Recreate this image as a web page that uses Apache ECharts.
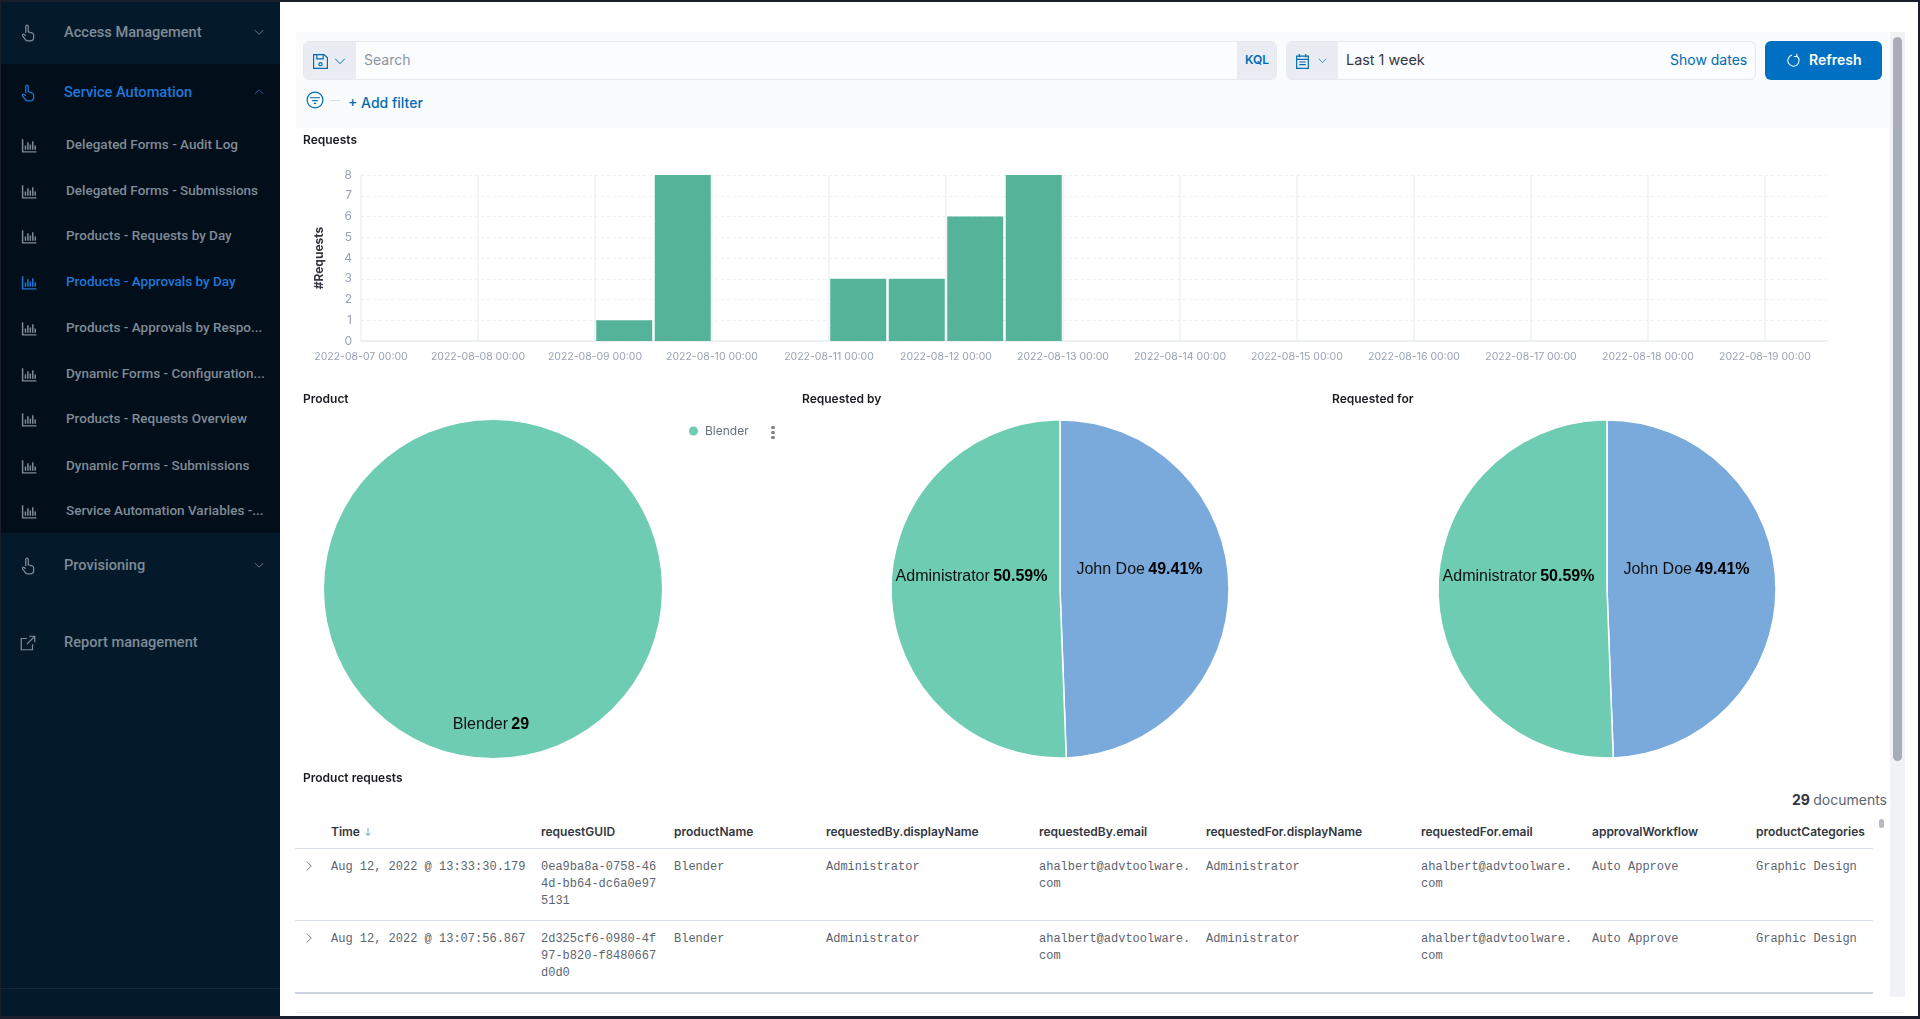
<!DOCTYPE html>
<html>
<head>
<meta charset="utf-8">
<title>Products - Approvals by Day</title>
<script src="https://cdn.jsdelivr.net/npm/echarts@6/dist/echarts.min.js"></script>
<style>
  html, body { margin: 0; padding: 0; background: #fff; overflow: hidden; }
  #page { position: relative; width: 1920px; height: 1019px; overflow: hidden; font-family: Roboto, sans-serif; }
  #chart { position: absolute; left: 0; top: 0; width: 1920px; height: 1019px; z-index: 5; }
  .abs { position: absolute; white-space: nowrap; line-height: 1; }
  .box { position: absolute; box-sizing: border-box; }
  .box svg { display: block; }
  .mono { font-family: "Liberation Mono", monospace; font-size: 12px; color: #5c6470; }
  .head { font-family: Inter, sans-serif; font-size: 12px; font-weight: 600; color: #343741; }
  #frame { position: absolute; inset: 0; box-sizing: border-box; z-index: 9; pointer-events: none;
    border-style: solid; border-color: #1a1f2b; border-width: 2px 2px 3px 1px; }
</style>
</head>
<body>
<div id="page">
  <div id="ui"></div>
  <div id="chart"></div>
  <div id="frame"></div>
</div>
<script>
const ui = document.getElementById("ui");
const DAY = 86400000;
const HOUR = 3600000;

// helpers for the kibana chrome around the chart
function text(str, x, y, css) {
  const el = document.createElement("div");
  el.className = "abs";
  el.style.cssText = "left:" + x + "px;top:" + y + "px;transform:translateY(-50%);" + (css || "");
  el.innerHTML = str;
  ui.appendChild(el);
  return el;
}
function box(x, y, w, h, css) {
  const el = document.createElement("div");
  el.className = "box";
  el.style.cssText = "left:" + x + "px;top:" + y + "px;width:" + w + "px;height:" + h + "px;" + (css || "");
  ui.appendChild(el);
  return el;
}
function icon(body, x, y, size, color) {
  const el = document.createElement("div");
  el.className = "box";
  el.style.cssText = "left:" + (x - size / 2) + "px;top:" + (y - size / 2) + "px;width:" + size + "px;height:" + size + "px;";
  el.innerHTML = '<svg width="' + size + '" height="' + size + '" viewBox="0 0 16 16" fill="none" stroke="' + color + '" stroke-width="1.1">' + body + "</svg>";
  ui.appendChild(el);
}

const ICONS = {
  hand: '<path d="M6 8V2.2a1.1 1.1 0 0 1 2.2 0V7l3.3.8c1 .3 1.5 1 1.5 2V12c0 1.7-1.3 3-3 3H8c-1 0-1.7-.4-2.3-1.2L3.2 10.5c-.6-.9.6-1.9 1.4-1.1L6 10.5"/>',
  bars: '<path d="M1.5 2v12h13M4.2 12V8M6.5 12V5M8.8 12V7M11.1 12V4M13.4 12V8" stroke-width="1.4"/>',
  down: '<path d="M2.5 5.5 8 11l5.5-5.5"/>',
  up: '<path d="M2.5 10.5 8 5l5.5 5.5"/>',
  right: '<path d="M5 2 11 8l-6 6"/>',
  link: '<path d="M12 9v5H2V4h5M9 2h5v5M14 2 7 9"/>',
  save: '<path d="M1.5 1.5h10l3 3v10h-13zM4.5 1.5v4h6v-4"/><circle cx="8" cy="10.5" r="1.5"/>',
  cal: '<path d="M2.5 3h11v11.5h-11zM2.5 6h11M5 1v3M11 1v3M5 8.5h6M5 11h6"/>',
  refresh: '<path d="M11.5 3.2A6 6 0 1 1 6.5 2.2"/><path d="M11.5 .8v3h-3"/>',
  filter: '<circle cx="8" cy="8" r="7"/><path d="M3.5 6h9M5.5 8.5h5M7 11h2"/>',
  arrow: '<path d="M8 2v11M4 9.5 8 13.5l4-4"/>',
};

// sidebar
const NAV_GREY = "#7f8b97";
const NAV_BLUE = "#1f78d8";
box(0, 0, 280, 1019, "background:#041a2b");
box(0, 64, 280, 469, "background:#020e1a");
box(0, 988, 280, 1, "background:#12293a");

const sections = [
  { label: "Access Management", y: 32, icon: "hand", arrow: "down" },
  { label: "Service Automation", y: 92, icon: "hand", arrow: "up", active: true },
  { label: "Provisioning", y: 565, icon: "hand", arrow: "down" },
  { label: "Report management", y: 642, icon: "link" },
  { label: "Help", y: 1021.5, icon: "bars" },
];
sections.forEach((s) => {
  const color = s.active ? NAV_BLUE : NAV_GREY;
  icon(ICONS[s.icon], 28, s.y + 1, 18, color);
  text(s.label, 64, s.y, "font-size:14.6px;font-weight:500;color:" + color);
  if (s.arrow) icon(ICONS[s.arrow], 259, s.y, 12, color);
});

const reports = [
  ["Delegated Forms - Audit Log", 145],
  ["Delegated Forms - Submissions", 191],
  ["Products - Requests by Day", 236],
  ["Products - Approvals by Day", 282, true],
  ["Products - Approvals by Respo...", 328],
  ["Dynamic Forms - Configuration...", 374],
  ["Products - Requests Overview", 419],
  ["Dynamic Forms - Submissions", 466],
  ["Service Automation Variables -...", 511],
];
reports.forEach((r) => {
  const color = r[2] ? NAV_BLUE : NAV_GREY;
  icon(ICONS.bars, 29, r[1], 17, color);
  text(r[0], 66, r[1], "font-size:13.5px;font-weight:500;color:" + color);
});

// main panel
box(280, 0, 1640, 1019, "background:#fff;border-top-left-radius:30px");
box(296, 32, 1593, 96, "background:#fafbfd");
box(1890, 32, 15, 965, "background:#f1f2f6");
box(1893, 37, 9, 724, "background:#a9adb9;border-radius:5px");
box(296, 1012, 1608, 1, "background:#e9ebf0");

// query bar
box(303, 41, 974, 39, "background:#fbfcfd;border:1px solid #e4e8ef;border-radius:6px;overflow:hidden");
box(304, 42, 52, 37, "background:#e9edf3;border-radius:5px 0 0 5px");
icon(ICONS.save, 320, 61, 17, "#006bb4");
icon(ICONS.down, 340, 61, 14, "#006bb4");
text("Search", 364, 60, "font-family:Inter;font-size:14px;color:#8a94a3");
box(1237, 42, 39, 37, "background:#e9edf3;border-radius:0 5px 5px 0");
text("KQL", 1245, 60, "font-family:Inter;font-size:12px;font-weight:600;color:#006bb4");
box(1286, 41, 470, 39, "background:#fbfcfd;border:1px solid #e4e8ef;border-radius:6px");
box(1287, 42, 51, 37, "background:#e9edf3;border-radius:5px 0 0 5px");
icon(ICONS.cal, 1302, 61, 17, "#006bb4");
icon(ICONS.down, 1322, 60, 11, "#006bb4");
text("Last 1 week", 1346, 60, "font-family:Inter;font-size:14.4px;color:#343741");
text("Show dates", 1670, 60, "font-family:Inter;font-size:14px;color:#006bb4");
box(1765, 41, 117, 39, "background:#0071c2;border-radius:6px");
icon(ICONS.refresh, 1793, 60, 15, "#fff");
text("Refresh", 1809, 60, "font-family:Inter;font-size:14px;font-weight:600;color:#fff");
icon(ICONS.filter, 315, 100, 18, "#006bb4");
box(330, 100, 10, 1, "background:#d9dde5");
text("+ Add filter", 348, 103, "font-family:Inter;font-size:14px;font-weight:500;color:#006bb4");

// documents table
const columns = [
  ["requestGUID", 541],
  ["productName", 674],
  ["requestedBy.displayName", 826],
  ["requestedBy.email", 1039],
  ["requestedFor.displayName", 1206],
  ["requestedFor.email", 1421],
  ["approvalWorkflow", 1592],
  ["productCategories", 1756],
];
const rows = [
  {
    time: "Aug 12, 2022 @ 13:33:30.179",
    cells: [["0ea9ba8a-0758-46", "4d-bb64-dc6a0e97", "5131"], ["Blender"], ["Administrator"], ["ahalbert@advtoolware.", "com"], ["Administrator"], ["ahalbert@advtoolware.", "com"], ["Auto Approve"], ["Graphic Design"]],
  },
  {
    time: "Aug 12, 2022 @ 13:07:56.867",
    cells: [["2d325cf6-0980-4f", "97-b820-f8480667", "d0d0"], ["Blender"], ["Administrator"], ["ahalbert@advtoolware.", "com"], ["Administrator"], ["ahalbert@advtoolware.", "com"], ["Auto Approve"], ["Graphic Design"]],
  },
];
text('29 <span style="font-weight:400;color:#5c6470">documents</span>', 1792, 800, "font-family:Inter;font-size:14px;font-weight:700;color:#343741");
box(1879, 819, 5, 9, "background:#b4b8c2;border-radius:3px");
text("Time", 331, 831.5, "").className = "abs head";
icon(ICONS.arrow, 368, 832, 10, "#1f78d8");
columns.forEach((c) => {
  text(c[0], c[1], 831.5, "").className = "abs head";
});
box(295, 848, 1578, 1, "background:#d9e0ea");
box(295, 920, 1578, 1, "background:#d9e0ea");
box(295, 992, 1578, 2, "background:#cdd3e0");
rows.forEach((r, i) => {
  const top = 867 + i * 72;
  icon(ICONS.right, 309, top - 1, 12, "#5c6470");
  text(r.time, 331, top, "").className = "abs mono";
  r.cells.forEach((lines, c) => {
    lines.forEach((line, l) => {
      text(line, columns[c][1], top + l * 17, "").className = "abs mono";
    });
  });
});

// kebab beside the pie legend
[427, 432, 437].forEach((y) => box(771, y - 1.5, 3.5, 3.5, "background:#7b808a;border-radius:50%"));

// requests per 12h bucket, x is bucket start
const requests = [
  [Date.UTC(2022, 7, 9, 0), 1],
  [Date.UTC(2022, 7, 9, 12), 8],
  [Date.UTC(2022, 7, 11, 0), 3],
  [Date.UTC(2022, 7, 11, 12), 3],
  [Date.UTC(2022, 7, 12, 0), 6],
  [Date.UTC(2022, 7, 12, 12), 8],
];
const productData = [{ name: "Blender", value: 29 }];
const requestedBy = [
  { name: "John Doe", value: 49.41, itemStyle: { color: "#79AADB" } },
  { name: "Administrator", value: 50.59, itemStyle: { color: "#6DCCB1" } },
];
const requestedFor = [
  { name: "John Doe", value: 49.41, itemStyle: { color: "#79AADB" } },
  { name: "Administrator", value: 50.59, itemStyle: { color: "#6DCCB1" } },
];

function dayLabel(v) {
  const d = new Date(v);
  const pad = (n) => String(n).padStart(2, "0");
  return d.getUTCFullYear() + "-" + pad(d.getUTCMonth() + 1) + "-" + pad(d.getUTCDate()) + " 00:00";
}
function titleItem(str, left, top) {
  return {
    text: str,
    left: left,
    top: top,
    padding: 0,
    textStyle: { fontFamily: "Inter", fontSize: 12, fontWeight: 600, color: "#1a1c21" },
  };
}
function pieSeries(data, center, labelText, layout) {
  return {
    type: "pie",
    center: center,
    radius: 169,
    startAngle: 90,
    percentPrecision: 2,
    avoidLabelOverlap: false,
    data: data,
    itemStyle: { color: "#6DCCB1", borderColor: "#fff", borderWidth: data.length > 1 ? 1.5 : 0 },
    emphasis: { disabled: true },
    labelLine: { show: false },
    label: {
      show: true,
      position: "inside",
      formatter: labelText,
      rich: {
        n: { fontFamily: "Liberation Sans", fontSize: 16, color: "#111" },
        v: { fontFamily: "Liberation Sans", fontSize: 16, fontWeight: "bold", color: "#000" },
      },
    },
    labelLayout: layout,
  };
}
const byLayout = (p) => (p.dataIndex === 0 ? { dx: -8, dy: -18 } : { dx: -1, dy: -14 });

const chart = echarts.init(document.getElementById("chart"));
chart.setOption({
  animation: false,
  title: [
    titleItem("Requests", 303, 134),
    titleItem("Product", 303, 393),
    titleItem("Requested by", 802, 393),
    titleItem("Requested for", 1332, 393),
    titleItem("Product requests", 303, 772),
  ],
  legend: {
    left: 689,
    top: 425,
    selectedMode: false,
    data: ["Blender"],
    icon: "circle",
    itemWidth: 9,
    itemHeight: 9,
    itemGap: 6,
    padding: 0,
    textStyle: { fontFamily: "Inter", fontSize: 12, color: "#69707d", padding: [0, 0, 0, 2] },
  },
  grid: { left: 361, top: 175, width: 1466, height: 166, containLabel: false },
  xAxis: {
    type: "value",
    min: Date.UTC(2022, 7, 7),
    max: Date.UTC(2022, 7, 7) + 12.53 * DAY,
    interval: DAY,
    axisTick: { show: false },
    axisLine: { onZero: false, lineStyle: { color: "#e9edf3", width: 1.5 } },
    axisLabel: {
      formatter: dayLabel,
      showMaxLabel: false,
      margin: 10,
      fontFamily: "Inter",
      fontSize: 10.5,
      color: "#98a2b3",
    },
    splitLine: { show: true, showMaxLine: false, lineStyle: { color: "#eef1f6", width: 1.5 } },
  },
  yAxis: {
    type: "value",
    min: 0,
    max: 8,
    interval: 1,
    name: "#Requests",
    nameLocation: "middle",
    nameGap: 36,
    nameRotate: 90,
    nameTextStyle: { fontFamily: "Inter", fontSize: 12, fontWeight: 700, color: "#343741" },
    axisLine: { show: false },
    axisTick: { show: false },
    axisLabel: { margin: 9, fontFamily: "Inter", fontSize: 12, color: "#98a2b3" },
    splitLine: { show: true, lineStyle: { color: "#eef0f4", type: [3, 3], width: 1 } },
  },
  series: [
    {
      type: "bar",
      name: "Requests",
      barWidth: 56,
      // buckets span 12h, so each bar sits 6h after its start
      data: requests.map((r) => [r[0] + 6 * HOUR, r[1]]),
      itemStyle: { color: "#54B399" },
      emphasis: { disabled: true },
    },
    pieSeries(productData, [493, 589], "{n|{b}} {v|{c}}", () => ({ dx: -2, dy: 48 })),
    pieSeries(requestedBy, [1060, 589], "{n|{b}} {v|{d}%}", byLayout),
    pieSeries(requestedFor, [1607, 589], "{n|{b}} {v|{d}%}", byLayout),
  ],
});
</script>
</body>
</html>
